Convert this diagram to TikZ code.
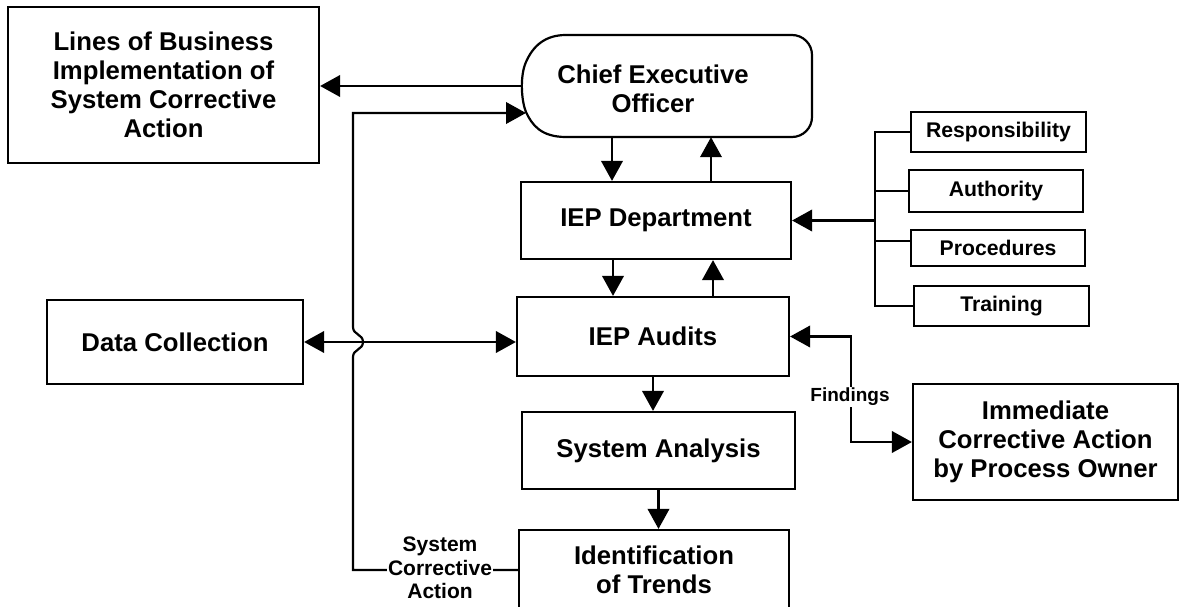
\documentclass[tikz,border=0pt]{standalone}
\usepackage{fontspec}
\setmainfont{Liberation Sans}
\usetikzlibrary{arrows.meta,calc}
\newcommand\bigf{\fontsize{25.7}{28.8}\selectfont\bfseries}
\newcommand\boxf{\fontsize{21.2}{23}\selectfont\bfseries}
\newcommand\lblf{\fontsize{21}{23.5}\selectfont\bfseries}
\newcommand\findf{\fontsize{19}{22}\selectfont\bfseries}
\tikzset{
 box/.style={draw, line width=2.2pt, align=center, font=\bigf, inner sep=2pt},
 sbox/.style={draw, line width=2.2pt, align=center, font=\boxf, inner sep=2pt},
 conn/.style={line width=2.2pt},
 arr/.style={conn, -{Triangle[length=20pt,width=21.5pt]}},
 darr/.style={conn, {Triangle[length=20pt,width=21.5pt]}-{Triangle[length=20pt,width=21.5pt]}},
 lbl/.style={fill=white, align=center, font=\lblf, inner sep=1pt}
}
\begin{document}
\begin{tikzpicture}[x=1pt,y=-1pt]
\useasboundingbox (0,0) rectangle (1179,607);
\clip (0,0) rectangle (1179,607);
\fill[white] (0,0) rectangle (1179,607);
% CEO outline (round left end, rounded right corners)
\draw[conn, line join=round]
  (566,137) .. controls (541,137) and (532,125) .. (526,112)
  .. controls (521,100) and (520,75) .. (526,62)
  .. controls (533,46) and (545,35) .. (566,35)
  [rounded corners=20pt] -- (812,35) -- (812,137) -- (566,137);
% nodes
\node[minimum width=291pt, minimum height=102pt, inner sep=0pt] (ceo) at (666.5,86) {};
\node[align=center, font=\bigf] (ceotext) at (653,89) {Chief Executive\\Officer};
\node[box, minimum width=311pt, minimum height=156pt] (lob) at (163.5,85) {Lines of Business\\Implementation of\\System Corrective\\Action};
\node[box, minimum width=270pt, minimum height=77pt] (dept) at (656,220.5) {IEP Department};
\node[box, minimum width=272pt, minimum height=79pt] (audits) at (653,336.5) {IEP Audits};
\node[box, minimum width=273pt, minimum height=77pt] (sysan) at (658.5,450.5) {System Analysis};
\node[box, minimum width=270pt, minimum height=80pt] (ident) at (654,570) {Identification\\of Trends};
\node[box, minimum width=256pt, minimum height=84pt] (dc) at (175,342) {Data Collection};
\node[box, minimum width=265pt, minimum height=116pt] (imm) at (1045.5,442) {Immediate\\Corrective Action\\by Process Owner};
\node[sbox, minimum width=175pt, minimum height=40pt] (resp) at (998.5,132) {Responsibility};
\node[sbox, minimum width=174pt, minimum height=42pt] (auth) at (996,191) {Authority};
\node[sbox, minimum width=174pt, minimum height=36pt] (proc) at (998,248) {Procedures};
\node[sbox, minimum width=175pt, minimum height=40pt] (train) at (1001.5,306) {Training};
% helper coordinates
\coordinate (bus) at (875,0);
\coordinate (sca) at (353,0);
\coordinate (fx) at (851,0);
\coordinate (d1) at (612,0);
\coordinate (u1) at (711,0);
\coordinate (d2) at (613,0);
\coordinate (u2) at (713,0);
\coordinate (ceoin) at (526,113);
\coordinate (pb) at ($(proc.west)+(0,-7)$);
% connectors
\draw[arr] (ceo.west) -- (lob.east |- ceo.west);
\draw[arr] (ceo.south -| d1) -- (dept.north -| d1);
\draw[arr] (dept.north -| u1) -- (ceo.south -| u1);
\draw[arr] (dept.south -| d2) -- (audits.north -| d2);
\draw[arr] (audits.north -| u2) -- (dept.south -| u2);
\draw[arr] (audits.south) -- (audits.south |- sysan.north);
\draw[arr] (sysan.south) -- (sysan.south |- ident.north);
\draw[darr] (dc.east) -- (audits.west |- dc.east);
\draw[arr] (ident.west) -- (sca |- ident.west) -- (353,357)
  .. controls (353,349) and (363,350) .. (363,342)
  .. controls (363,334) and (353,335) .. (353,327)
  -- (sca |- ceoin) -- (ceoin);
\node[lbl] (scalbl) at (440,568) {System\\Corrective\\Action};
\draw[conn] (resp.west) -- (bus |- resp.west) -- (bus |- train.west) -- (train.west);
\draw[conn] (auth.west) -- (bus |- auth.west);
\draw[conn] (pb) -- (bus |- pb);
\draw[arr] (bus |- dept.east) -- (dept.east);
\draw[darr] (audits.east) -| (fx |- imm.west) -- (imm.west);
\node[lbl, font=\findf] (findlbl) at (850,397) {Findings};
\end{tikzpicture}
\end{document}
